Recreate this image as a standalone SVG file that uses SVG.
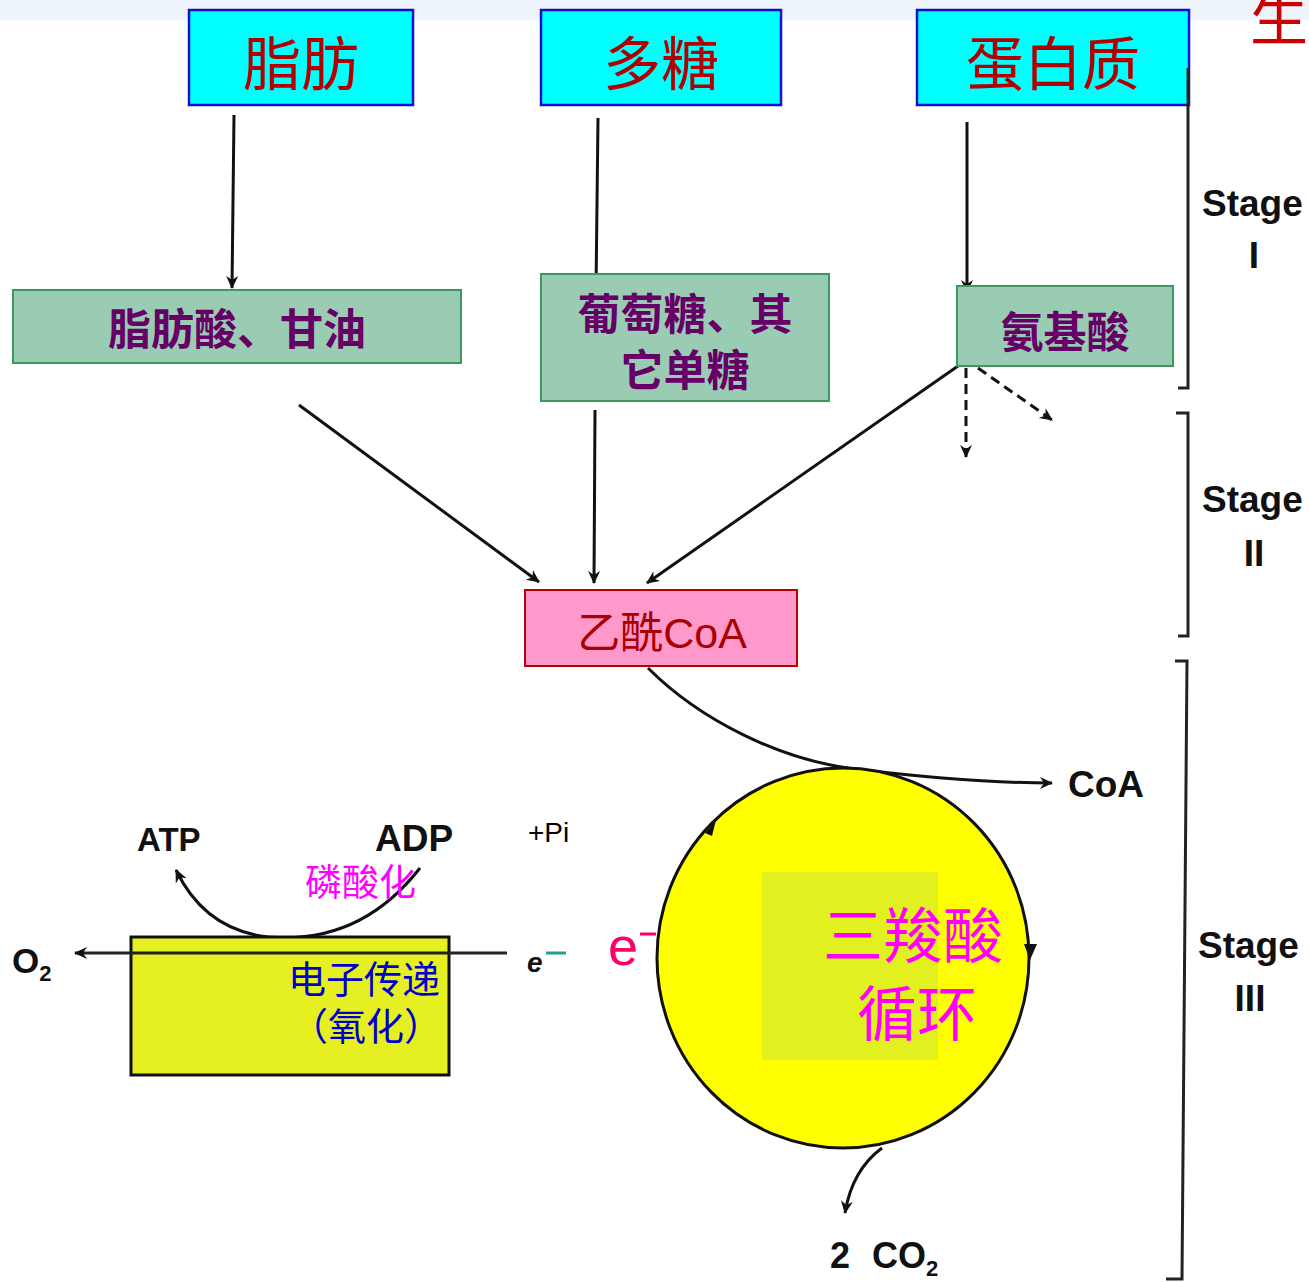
<svg xmlns="http://www.w3.org/2000/svg" width="1309" height="1282" viewBox="0 0 1309 1282">
<style>
.top{fill:#00FFFF;stroke:#1010D0;stroke-width:2.5}
.topt{font-family:"Noto Sans CJK SC",sans-serif;font-size:58px;fill:#B00000;text-anchor:middle}
.grn{fill:#99CCB2;stroke:#3A9A5A;stroke-width:2}
.grnt{font-family:"Noto Sans CJK SC",sans-serif;font-size:43px;font-weight:bold;fill:#660066;text-anchor:middle}
.ln{fill:none;stroke:#111;stroke-width:3}
.stg{font-family:"Liberation Sans",Arial,sans-serif;font-weight:bold;font-size:37px;fill:#111}
.lab{font-family:"Liberation Sans",Arial,sans-serif;font-weight:bold;fill:#111}
.br{fill:none;stroke:#222;stroke-width:3}
</style>
<defs>
<marker id="a2" viewBox="0 0 14 14" refX="12" refY="7" markerWidth="14" markerHeight="14" orient="auto" markerUnits="userSpaceOnUse">
<path d="M0,1 L13,7 L0,13 L4,7 Z" fill="#111"/>
</marker>
</defs>
<rect width="1309" height="1282" fill="#FFFFFF"/>
<rect x="0" y="0" width="1309" height="20" fill="#EEF4FC"/>
<text x="1250" y="40" font-family="Noto Sans CJK SC,sans-serif" font-size="58" fill="#CC0000">生</text>

<g id="connectors">
<path class="ln" d="M234 115 L232 288" marker-end="url(#a2)"/>
<path class="ln" d="M598 118 L596 290" marker-end="url(#a2)"/>
<path class="ln" d="M967 122 L967 292" marker-end="url(#a2)"/>
<path class="ln" d="M299 405 L539 582" marker-end="url(#a2)"/>
<path class="ln" d="M595 410 L594 583" marker-end="url(#a2)"/>
<path class="ln" d="M958 366 L647 583" marker-end="url(#a2)"/>
<path class="ln" d="M966 368 L966 457" stroke-dasharray="10,6" marker-end="url(#a2)"/>
<path class="ln" d="M978 368 L1052 420" stroke-dasharray="10,6" marker-end="url(#a2)"/>
<path class="ln" d="M648 668 C700 720 780 760 855 769 C930 778 990 783 1052 783" marker-end="url(#a2)"/>
<path class="ln" d="M882 1148 Q852 1170 845 1213" marker-end="url(#a2)"/>
<path class="ln" d="M420 868 Q360 945 268 937 Q205 930 176 870" marker-end="url(#a2)"/>
</g>

<g id="node-fat">
<rect class="top" x="189" y="10" width="224" height="95"/>
<text class="topt" x="301" y="85">脂肪</text>
</g>
<g id="node-poly">
<rect class="top" x="541" y="10" width="240" height="95"/>
<text class="topt" x="661" y="85">多糖</text>
</g>
<g id="node-protein">
<rect class="top" x="917" y="10" width="272" height="95"/>
<text class="topt" x="1053" y="85">蛋白质</text>
</g>

<g id="node-fattyacid">
<rect class="grn" x="13" y="290" width="448" height="73"/>
<text class="grnt" x="237" y="345">脂肪酸、甘油</text>
</g>
<g id="node-glucose">
<rect class="grn" x="541" y="274" width="288" height="127"/>
<text class="grnt" x="685" y="330">葡萄糖、其</text>
<text class="grnt" x="685" y="386">它单糖</text>
</g>
<g id="node-amino">
<rect class="grn" x="957" y="286" width="216" height="80"/>
<text class="grnt" x="1065" y="348" font-size="48">氨基酸</text>
</g>

<g id="node-acetylcoa">
<rect x="525" y="590" width="272" height="76" fill="#FF99CC" stroke="#BB0000" stroke-width="2"/>
<text x="662" y="648" text-anchor="middle" font-size="43" fill="#AA0000"><tspan font-family="Noto Sans CJK SC,sans-serif">乙酰</tspan><tspan font-family="Liberation Sans,Arial,sans-serif">CoA</tspan></text>
</g>

<g id="node-tca">
<ellipse cx="843" cy="958" rx="186" ry="190" fill="#FFFF00" stroke="#111" stroke-width="3"/>
<rect x="762" y="872" width="176" height="188" fill="#E2F020"/>
<path d="M705 833 L716 820 L712 836 Z" fill="#111"/>
<path d="M1024 944 L1030 960 L1037 944 Z" fill="#111"/>
<text x="823" y="958" font-family="Noto Sans CJK SC,sans-serif" font-size="60" fill="#FF00FF">三羧酸</text>
<text x="917" y="1036" text-anchor="middle" font-family="Noto Sans CJK SC,sans-serif" font-size="60" fill="#FF00FF">循环</text>
</g>
<text x="608" y="965" font-family="Liberation Sans,Arial,sans-serif" font-size="54" fill="#FF0066">e</text>
<path d="M640 934 L656 934" stroke="#FF0066" stroke-width="3"/>

<g id="node-etc">
<rect x="131" y="937" width="318" height="138" fill="#E6F020" stroke="#111" stroke-width="3"/>
<path d="M507 953 L75 953" stroke="#222" stroke-width="3" fill="none" marker-end="url(#a2)"/>
<text x="288" y="993" font-family="Noto Sans CJK SC,sans-serif" font-size="38" fill="#0000CC">电子传递</text>
<text x="290" y="1040" font-family="Noto Sans CJK SC,sans-serif" font-size="38" fill="#0000CC">（氧化）</text>
</g>
<text x="12" y="973" class="lab" font-size="35">O<tspan font-size="22" dy="8">2</tspan></text>
<text x="527" y="972" class="lab" font-size="28" font-style="italic">e</text>
<path d="M546 953 L566 953" stroke="#20A090" stroke-width="3"/>
<text x="137" y="851" class="lab" font-size="33" fill="#DD2222">ATP</text>
<text x="375" y="851" class="lab" font-size="37">ADP</text>
<text x="528" y="842" font-family="Liberation Sans,Arial,sans-serif" font-size="28" fill="#000">+Pi</text>
<text x="305" y="896" font-family="Noto Sans CJK SC,sans-serif" font-size="37" fill="#FF00FF">磷酸化</text>
<text x="1068" y="797" class="lab" font-size="37">CoA</text>
<text x="830" y="1268" class="lab" font-size="36">2<tspan x="872">CO</tspan><tspan font-size="22" dy="8">2</tspan></text>

<g id="stages">
<path class="br" d="M1188 68 L1188 388 L1178 388"/>
<text class="stg" x="1202" y="216">Stage</text>
<text class="stg" x="1254" y="268" text-anchor="middle">I</text>
<path class="br" d="M1176 413 L1188 413 L1188 636 L1178 636"/>
<text class="stg" x="1202" y="512">Stage</text>
<text class="stg" x="1254" y="566" text-anchor="middle">II</text>
<path class="br" d="M1175 661 L1187 661 L1182 1279 L1166 1279"/>
<text class="stg" x="1198" y="958">Stage</text>
<text class="stg" x="1250" y="1011" text-anchor="middle">III</text>
</g>
</svg>
